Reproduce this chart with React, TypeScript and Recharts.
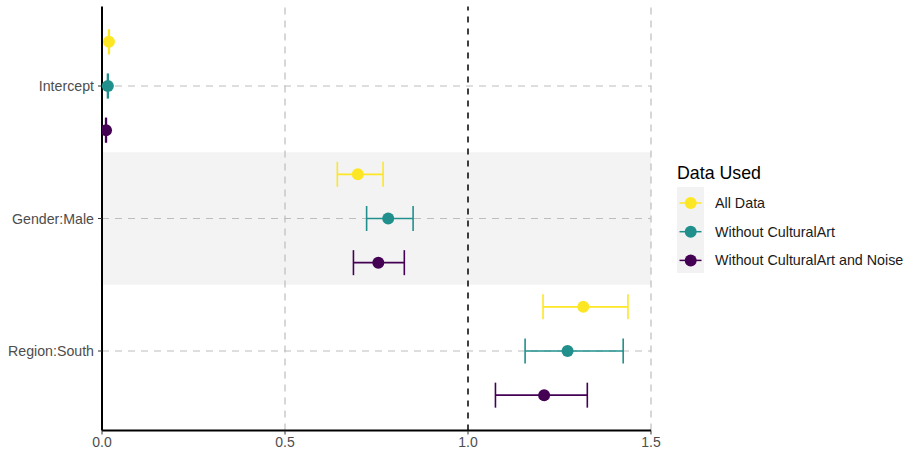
import React from "react";
import {
  ErrorBar,
  Legend,
  ReferenceArea,
  ReferenceLine,
  Scatter,
  ScatterChart,
  XAxis,
  YAxis,
} from "recharts";

const terms = ["Intercept", "Gender:Male", "Region:South"];
const seriesNames = ["All Data", "Without CulturalArt", "Without CulturalArt and Noise"];
const seriesColors = ["#FDE725", "#21908C", "#440154"];

// estimates and 95% intervals per term
const allDataEst = [0.019, 0.699, 1.315];
const allDataLow = [0.018, 0.643, 1.205];
const allDataHigh = [0.020, 0.768, 1.437];

const noArtEst = [0.016, 0.782, 1.272];
const noArtLow = [0.015, 0.723, 1.156];
const noArtHigh = [0.017, 0.850, 1.424];

const noArtNoiseEst = [0.011, 0.755, 1.208];
const noArtNoiseLow = [0.010, 0.687, 1.075];
const noArtNoiseHigh = [0.012, 0.826, 1.326];

const xTicks = [0, 0.5, 1, 1.5];
const dodge = [-1 / 3, 0, 1 / 3];

const FONT = "'Liberation Sans', Arial, sans-serif";

const build = (est: number[], low: number[], high: number[], s: number) =>
  est.map((v, i) => ({
    term: terms[i],
    x: v,
    y: i + 1 + dodge[s],
    err: [v - low[i], high[i] - v],
  }));

const series = [
  build(allDataEst, allDataLow, allDataHigh, 0),
  build(noArtEst, noArtLow, noArtHigh, 1),
  build(noArtNoiseEst, noArtNoiseLow, noArtNoiseHigh, 2),
];

const LegendBox = () => (
  <svg width={240} height={130} style={{ fontFamily: FONT }}>
    <text x={8} y={24} fontSize={17.8} fill="#000">
      Data Used
    </text>
    <rect x={8} y={32} width={27} height={86} fill="#f2f2f2" />
    {seriesNames.map((name, i) => {
      const cy = 48 + i * 28.7;
      return (
        <g key={name}>
          <line x1={10.5} x2={32.5} y1={cy} y2={cy} stroke={seriesColors[i]} strokeWidth={1.5} />
          <circle cx={21.7} cy={cy} r={6} fill={seriesColors[i]} />
          <text x={46} y={cy} dy="0.35em" fontSize={14.3} fill="#1a1a1a">
            {name}
          </text>
        </g>
      );
    })}
  </svg>
);

export default function App() {
  return (
    <div style={{ position: "absolute", left: 0, top: 0, background: "#fff" }}>
      <ScatterChart
        width={909}
        height={456}
        margin={{ top: 6.5, right: 258, bottom: 0, left: 0 }}
        style={{ fontFamily: FONT }}
      >
        <XAxis
          type="number"
          dataKey="x"
          domain={[0, 1.5]}
          ticks={xTicks}
          tickFormatter={(v: number) => v.toFixed(1)}
          allowDataOverflow
          height={25.5}
          axisLine={{ stroke: "#000", strokeWidth: 2 }}
          tickLine={{ stroke: "#333" }}
          tickSize={4}
          tickMargin={3}
          tick={{ fill: "#4d4d4d", fontSize: 14 }}
        />
        <YAxis
          type="number"
          dataKey="y"
          domain={[0.4, 3.6]}
          ticks={[1, 2, 3]}
          reversed
          allowDataOverflow
          tickFormatter={(v: number) => terms[Math.round(v) - 1]}
          width={102}
          axisLine={{ stroke: "#000", strokeWidth: 2 }}
          tickLine={{ stroke: "#333" }}
          tickSize={4}
          tickMargin={4}
          tick={{ fill: "#4d4d4d", fontSize: 14.2 }}
        />
        <ReferenceArea x1={0} x2={1.5} y1={1.5} y2={2.5} fill="#f3f3f3" fillOpacity={1} stroke="none" />
        {[1, 2, 3].map((t) => (
          <ReferenceLine key={"h" + t} y={t} stroke="#bdbdbd" strokeDasharray="7 6" strokeWidth={1.2} />
        ))}
        {[0.5, 1.5].map((t) => (
          <ReferenceLine key={"v" + t} x={t} stroke="#bdbdbd" strokeDasharray="7 6" strokeWidth={1.2} />
        ))}
        <ReferenceLine x={1} stroke="#000" strokeDasharray="6 6" strokeWidth={1.5} />
        {series.map((data, s) => (
          <Scatter
            key={seriesNames[s]}
            name={seriesNames[s]}
            data={data}
            fill={seriesColors[s]}
            isAnimationActive={false}
            shape={(p: any) => <circle cx={p.cx} cy={p.cy} r={6} fill={seriesColors[s]} />}
          >
            <ErrorBar
              dataKey="err"
              direction="x"
              width={12.5}
              stroke={seriesColors[s]}
              strokeWidth={1.6}
              isAnimationActive={false}
            />
          </Scatter>
        ))}
        <Legend
          layout="vertical"
          align="center"
          verticalAlign="middle"
          wrapperStyle={{ left: 669, top: 155, width: 240 }}
          content={() => <LegendBox />}
        />
      </ScatterChart>
    </div>
  );
}
